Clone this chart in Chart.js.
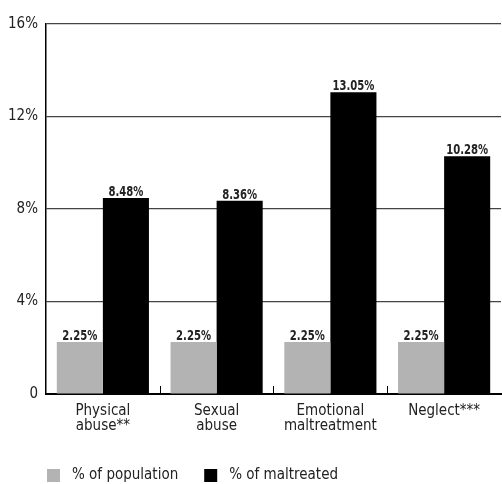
<!DOCTYPE html>
<html><head><meta charset="utf-8">
<script src="https://cdn.jsdelivr.net/npm/chart.js@4/dist/chart.umd.min.js"></script>
<style>html,body{margin:0;padding:0;background:#fff}#w{width:502px;height:484px}</style>
</head><body><div id="w"><canvas id="c"></canvas></div>
<script>
const categories = [["Physical","abuse**"],["Sexual","abuse"],["Emotional","maltreatment"],"Neglect***"];
const populationPct = [2.25, 2.25, 2.25, 2.25];
const maltreatedPct = [8.48, 8.36, 13.05, 10.28];
const yTicks = [0, 4, 8, 12, 16];
const seriesNames = ["% of population", "% of maltreated"];

const FONT = "'DejaVu Sans Condensed','DejaVu Sans',sans-serif";

const labelsPlugin = {
  id: 'vals',
  afterDatasetsDraw(chart) {
    const ctx = chart.ctx;
    ctx.save();
    ctx.font = "bold 14px " + FONT;
    ctx.fillStyle = '#222';
    ctx.textAlign = 'center';
    ctx.textBaseline = 'alphabetic';
    const sx = 0.8;
    chart.data.datasets.forEach((ds, i) => {
      chart.getDatasetMeta(i).data.forEach((bar, j) => {
        ctx.save();
        ctx.translate(bar.x, bar.y - 2);
        ctx.scale(sx, 1);
        ctx.fillText(ds.data[j].toFixed(2) + '%', 0, 0);
        ctx.restore();
      });
    });
    const xs = chart.scales.x, ys = chart.scales.y;
    const n = chart.data.labels.length;
    const w = (xs.right - xs.left) / n;
    ctx.strokeStyle = '#000'; ctx.lineWidth = 1;
    for (let k = 1; k < n; k++) {
      const x = Math.round(xs.left + w * k) + 0.5;
      ctx.beginPath(); ctx.moveTo(x, ys.bottom); ctx.lineTo(x, ys.bottom - 8); ctx.stroke();
    }
    // legend
    ctx.font = "15px " + FONT;
    ctx.textAlign = 'left'; ctx.textBaseline = 'middle';
    let lx = xs.left + 1;
    const ly = chart.height - 9;
    chart.data.datasets.forEach((ds) => {
      ctx.fillStyle = ds.backgroundColor;
      ctx.fillRect(lx, ly - 6, 13, 13);
      ctx.fillStyle = '#222';
      ctx.fillText(ds.label, lx + 25, ly);
      lx += 25 + ctx.measureText(ds.label).width + 26;
    });
    ctx.restore();
  }
};

new Chart(document.getElementById('c'), {
  type: 'bar',
  data: {
    labels: categories,
    datasets: [
      { label: seriesNames[0], data: populationPct, backgroundColor: '#b3b3b3' },
      { label: seriesNames[1], data: maltreatedPct, backgroundColor: '#000000' }
    ]
  },
  options: {
    responsive: true, maintainAspectRatio: false, animation: false,
    layout: { padding: { left: 0, right: 1, top: 24, bottom: 48 } },
    datasets: { bar: { categoryPercentage: 0.81, barPercentage: 1.0 } },
    plugins: { legend: { display: false }, tooltip: { enabled: false } },
    scales: {
      x: {
        grid: { display: false },
        border: { color: '#000', width: 2 },
        ticks: { color: '#222', font: { family: FONT, size: 15, lineHeight: 1.0 }, maxRotation: 0, padding: 2 }
      },
      y: {
        min: 0, max: 16,
        afterBuildTicks: s => { s.ticks = yTicks.map(v => ({ value: v })); },
        grid: { color: '#444', lineWidth: 1.2, drawTicks: false },
        border: { color: '#000', width: 1.5 },
        ticks: { color: '#222', padding: 8, font: { family: FONT, size: 15 },
          callback: v => v === 0 ? '0' : v + '%' }
      }
    }
  },
  plugins: [labelsPlugin]
});
</script></body></html>
